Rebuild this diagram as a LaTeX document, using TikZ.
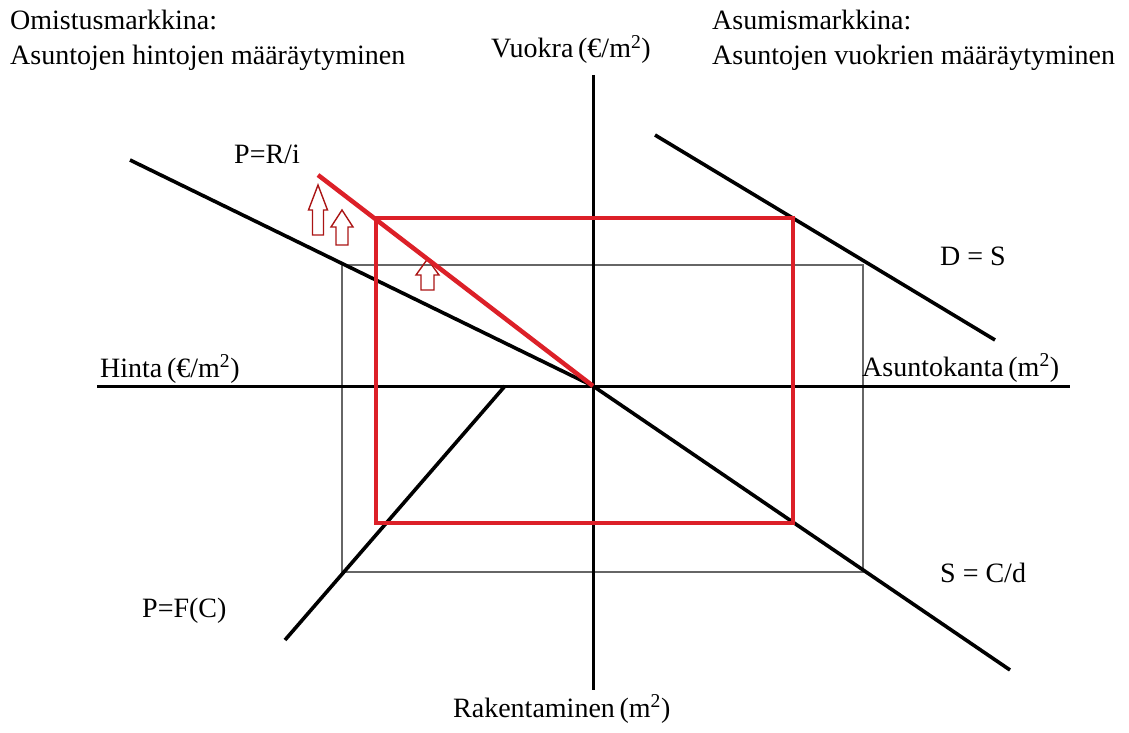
\documentclass[tikz,border=0pt]{standalone}
\usepackage{fontspec}
\setmainfont{Liberation Serif}
\begin{document}
\begin{tikzpicture}[x=1pt,y=-1pt,
  lbl/.style={anchor=base west,inner sep=0pt,font=\fontsize{28}{34}\selectfont},
  axis/.style={line width=3pt,black},
  curve/.style={line width=3.6pt,black},
  redline/.style={line width=4.5pt,redc},
  guide/.style={line width=1.8pt,gray!80!black},
  hollow/.style={line width=1.4pt,arrowc,line join=miter}]
\definecolor{redc}{RGB}{220,32,40}
\definecolor{arrowc}{RGB}{170,20,20}
\useasboundingbox (0,0) rectangle (1129,733);
% coordinates
\coordinate (O) at (593,386);
\coordinate (vt) at (593,75);
\coordinate (vb) at (593,690);
\coordinate (hl) at (97,386);
\coordinate (hr) at (1070,386);
\coordinate (ul) at (130,160);
\coordinate (lr) at (1010,670);
\coordinate (ds1) at (655,135);
\coordinate (ds2) at (995,340);
\coordinate (pf1) at (285,640);
\coordinate (pf2) at (505,386);
\coordinate (pr) at (318,175);
\coordinate (g1) at (342,265);
\coordinate (g2) at (863,572);
\coordinate (r1) at (376,218);
\coordinate (r2) at (793,523);
% guide rectangle
\draw[guide] (g1) rectangle (g2);
% axes
\draw[axis] (vt) -- (vb);
\draw[axis] (hl) -- (hr);
% curves
\draw[curve] (ul) -- (O);
\draw[curve] (O) -- (lr);
\draw[curve] (ds1) -- (ds2);
\draw[curve] (pf1) -- (pf2);
% hollow arrows
\draw[hollow] (312.5,235) -- (312.5,210) -- (308.5,210) -- (318,185) -- (327.5,210) -- (323.5,210) -- (323.5,235) -- cycle;
\draw[hollow] (336,245) -- (336,227) -- (331,227) -- (342,210) -- (353,227) -- (348,227) -- (348,245) -- cycle;
\draw[hollow] (421,290) -- (421,275) -- (416,275) -- (427.5,259) -- (439,275) -- (434,275) -- (434,290) -- cycle;
% red
\draw[redline] (r1) rectangle (r2);
\draw[redline] (pr) -- (O);
% labels
\node[lbl] (t1) at (10,30) {Omistusmarkkina:};
\node[lbl] (t2) at (10,65) {Asuntojen hintojen määräytyminen};
\node[lbl] (t3) at (712,30) {Asumismarkkina:};
\node[lbl] (t4) at (712,65) {Asuntojen vuokrien määräytyminen};
\node[lbl] (vy) at (491,58) {Vuokra\,(€/m\textsuperscript{2})};
\node[lbl] (hx) at (100,377) {Hinta\,(€/m\textsuperscript{2})};
\node[lbl] (ax) at (862,376) {Asuntokanta\,(m\textsuperscript{2})};
\node[lbl] (rk) at (453,717) {Rakentaminen\,(m\textsuperscript{2})};
\node[lbl] (ds) at (940,265) {D = S};
\node[lbl] (sc) at (940,582) {S = C/d};
\node[lbl] (pf) at (142,617) {P=F(C)};
\node[lbl] (pri) at (234,163) {P=R/i};
\end{tikzpicture}
\end{document}
